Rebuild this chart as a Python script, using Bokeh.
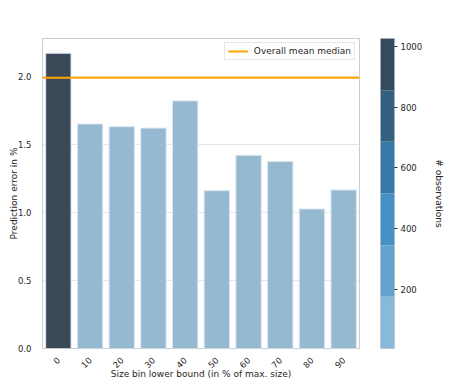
import numpy as np
from bokeh.plotting import figure
from bokeh.models import (Range1d, FixedTicker, Legend, LegendItem, ColumnDataSource)
from bokeh.layouts import row
from bokeh.embed import file_html
from bokeh.resources import INLINE

# ---- data ----
bins = ["0", "10", "20", "30", "40", "50", "60", "70", "80", "90"]
errors = [2.17, 1.65, 1.63, 1.62, 1.82, 1.16, 1.42, 1.375, 1.025, 1.165]
observations = [1026, 150, 120, 100, 85, 70, 55, 40, 20, 6]
overall_median = 1.99
cbar_palette = ["#88b9dc", "#64a2cf", "#4790c5", "#3679a8", "#34607f", "#344a5e"]
bar_palette = ["#96b9d2", "#96b9d2", "#96b9d2", "#96b9d2", "#96b9d2", "#3b4a58"]
cbar_ticks = [200, 400, 600, 800, 1000]
y_ticks = [0.0, 0.5, 1.0, 1.5, 2.0]

FONT = "DejaVu Sans"
TXT = "#262626"
FS = "8.5px"
FSL = "9px"

low, high = min(observations), max(observations)
edges = np.linspace(low, high, len(cbar_palette) + 1)

def color_for(v):
    idx = int(np.clip(np.searchsorted(edges, v, side="right") - 1, 0, len(bar_palette) - 1))
    return bar_palette[idx]

xs = list(range(len(bins)))
x_lo, x_hi = -0.5, len(bins) - 0.5
src = ColumnDataSource(dict(x=xs, top=errors, color=[color_for(v) for v in observations]))

p = figure(frame_width=317, frame_height=310, output_backend="svg", toolbar_location=None,
           x_range=Range1d(x_lo, x_hi), y_range=Range1d(0, max(errors) * 1.05),
           min_border_left=42, min_border_right=10, min_border_top=38, min_border_bottom=44)
p.vbar(x="x", top="top", width=0.8, color="color", line_color="#dbe6ee", line_width=1, source=src)

med = p.line(x=[x_lo, x_hi], y=[overall_median, overall_median], line_color="#ffa500", line_width=2)
legend = Legend(items=[LegendItem(label="Overall mean median", renderers=[med])],
                location="top_right", label_text_font=FONT, label_text_font_size=FSL,
                label_text_color=TXT, border_line_color="#cccccc", border_line_width=1,
                glyph_width=20, glyph_height=8, padding=3, margin=4, spacing=0,
                label_standoff=6, label_height=10)
p.add_layout(legend)

p.xaxis.ticker = FixedTicker(ticks=xs)
p.xaxis.major_label_overrides = {i: b for i, b in enumerate(bins)}
p.xaxis.major_label_orientation = np.pi / 4
p.xaxis.axis_label = "Size bin lower bound (in % of max. size)"
p.yaxis.ticker = FixedTicker(ticks=y_ticks)
p.yaxis.major_label_overrides = {t: f"{t:.1f}" for t in y_ticks}
p.yaxis.axis_label = "Prediction error in %"
for ax in (p.xaxis[0], p.yaxis[0]):
    ax.axis_line_color = None
    ax.major_tick_line_color = None
    ax.minor_tick_line_color = None
    ax.major_label_text_font = FONT
    ax.major_label_text_font_size = FS
    ax.major_label_text_color = TXT
    ax.axis_label_text_font = FONT
    ax.axis_label_text_font_size = FSL
    ax.axis_label_text_color = TXT
    ax.axis_label_text_font_style = "normal"
p.yaxis.major_label_standoff = 5
p.yaxis.axis_label_standoff = -4
p.xaxis.major_label_standoff = 4
p.xaxis.axis_label_standoff = -5
p.xgrid.grid_line_color = None
p.ygrid.grid_line_color = "#e5e5e5"
p.ygrid.grid_line_width = 1
p.outline_line_color = "#cccccc"
p.outline_line_width = 1

# ---- colorbar as separate figure ----
cb = figure(frame_width=14, frame_height=310, output_backend="svg", toolbar_location=None,
            x_range=Range1d(0, 1), y_range=Range1d(low, high), y_axis_location="right",
            min_border_left=11, min_border_right=10, min_border_top=38, min_border_bottom=44)
cb.quad(left=0, right=1, bottom=edges[:-1], top=edges[1:], color=cbar_palette, line_color=None)
cb.xaxis.visible = False
cb.xgrid.grid_line_color = None
cb.ygrid.grid_line_color = None
cb.outline_line_color = "#cccccc"
ay = cb.yaxis[0]
ay.ticker = FixedTicker(ticks=cbar_ticks)
ay.axis_line_color = None
ay.major_tick_line_color = TXT
ay.major_tick_out = 3
ay.major_tick_in = 0
ay.minor_tick_line_color = None
ay.major_label_text_font = FONT
ay.major_label_text_font_size = FS
ay.major_label_text_color = TXT
ay.major_label_standoff = 3
ay.axis_label = "# observations"
ay.axis_label_text_font = FONT
ay.axis_label_text_font_size = FSL
ay.axis_label_text_color = TXT
ay.axis_label_text_font_style = "normal"
ay.axis_label_standoff = 9

layout = row(p, cb)
open("out.html", "w").write(file_html(layout, INLINE))
